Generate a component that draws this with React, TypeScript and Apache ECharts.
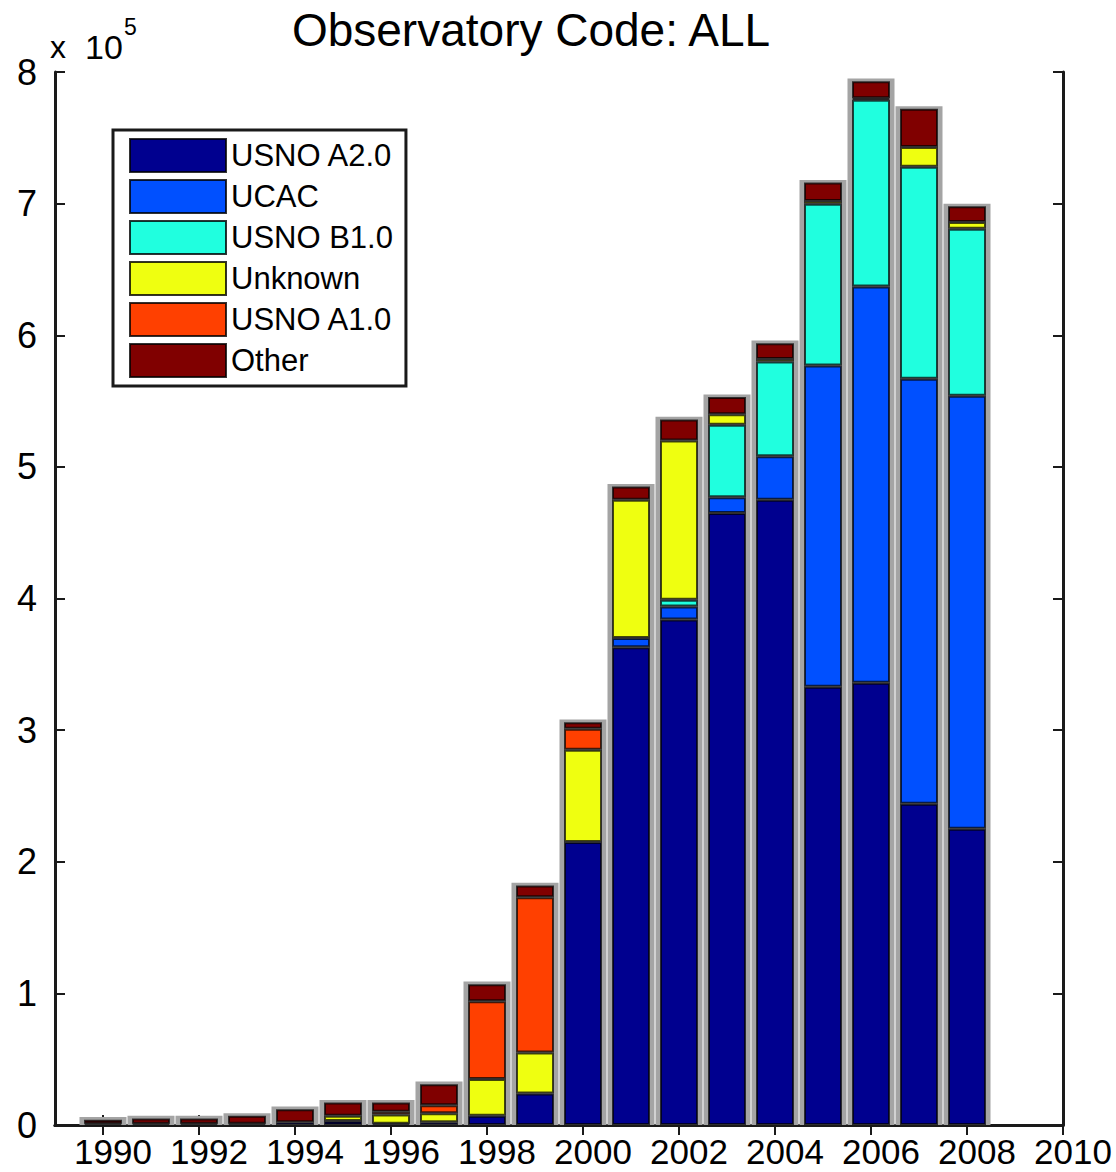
import React, { useEffect, useRef } from "react";
import * as echarts from "echarts";

const axisYears = [1989, 1990, 1991, 1992, 1993, 1994, 1995, 1996, 1997, 1998, 1999, 2000, 2001, 2002, 2003, 2004, 2005, 2006, 2007, 2008, 2009, 2010];
const years = [1990, 1991, 1992, 1993, 1994, 1995, 1996, 1997, 1998, 1999, 2000, 2001, 2002, 2003, 2004, 2005, 2006, 2007, 2008];
const usnoA2 = [0.01, 0.01, 0.01, 0.01, 0.02, 0.03, 0.01, 0.02, 0.07, 0.24, 2.15, 3.63, 3.84, 4.65, 4.75, 3.33, 3.36, 2.44, 2.25];
const ucac = [0, 0, 0, 0, 0, 0, 0, 0, 0, 0, 0, 0.07, 0.10, 0.12, 0.33, 2.44, 3.01, 3.23, 3.29];
const usnoB1 = [0, 0, 0, 0, 0, 0, 0, 0, 0, 0, 0, 0, 0.05, 0.55, 0.72, 1.23, 1.42, 1.61, 1.27];
const unknown = [0, 0, 0, 0, 0, 0.04, 0.07, 0.07, 0.28, 0.31, 0.70, 1.05, 1.21, 0.08, 0.02, 0.02, 0.01, 0.15, 0.05];
const usnoA1 = [0, 0, 0, 0, 0, 0, 0.02, 0.06, 0.59, 1.18, 0.16, 0, 0, 0, 0, 0, 0, 0, 0];
const other = [0.03, 0.04, 0.04, 0.06, 0.10, 0.10, 0.07, 0.16, 0.13, 0.09, 0.05, 0.10, 0.16, 0.13, 0.12, 0.14, 0.13, 0.29, 0.12];

const seriesNames = ["USNO A2.0", "UCAC", "USNO B1.0", "Unknown", "USNO A1.0", "Other"];
const seriesColors = ["#00008f", "#0050ff", "#20ffdf", "#efff10", "#ff4000", "#800000"];
const seriesData = [usnoA2, ucac, usnoB1, unknown, usnoA1, other];

const xTickLabels = [1990, 1992, 1994, 1996, 1998, 2000, 2002, 2004, 2006, 2008, 2010];
const yTicks = [0, 1, 2, 3, 4, 5, 6, 7, 8];

const FONT = "'Liberation Sans', Arial, Helvetica, sans-serif";

export default function App() {
  const ref = useRef<HTMLDivElement>(null);
  useEffect(() => {
    document.body.style.margin = "0";
    if (!ref.current) return;
    const chart = echarts.init(ref.current, null, { renderer: "svg" });

    const valueAt = (arr: number[], yr: number) => {
      const i = years.indexOf(yr);
      if (i < 0) return "-";
      const v = arr[i];
      return v > 0 ? v : "-";
    };
    const totalAt = (yr: number) => {
      const i = years.indexOf(yr);
      if (i < 0) return "-";
      return seriesData.reduce((s, arr) => s + (arr[i] || 0), 0) + 0.02;
    };

    const labelFilter = (_idx: number, val: string) => xTickLabels.includes(Number(val));

    const barSeries = seriesNames.map((name, k) => ({
      name,
      type: "bar",
      stack: "total",
      xAxisIndex: 0,
      yAxisIndex: 0,
      barWidth: 38,
      z: 3,
      data: axisYears.map((yr) => valueAt(seriesData[k], yr)),
      itemStyle: {
        color: seriesColors[k],
        borderColor: "rgba(0,0,0,0.72)",
        borderWidth: 2,
      },
    }));

    const haloSeries = {
      name: "halo",
      type: "bar",
      xAxisIndex: 1,
      yAxisIndex: 0,
      barWidth: 47,
      z: 2,
      silent: true,
      data: axisYears.map((yr) => totalAt(yr)),
      itemStyle: { color: "#a4a4a4" },
    };

    const catAxis = (pos: "bottom" | "top", showLabels: boolean) => ({
      type: "category",
      data: axisYears.map(String),
      boundaryGap: false,
      position: pos,
      splitLine: { show: false },
      axisLine: { show: true, lineStyle: { color: "#1a1a1a", width: 3 } },
      axisTick: {
        show: true,
        inside: true,
        length: 10,
        interval: labelFilter,
        lineStyle: { color: "#1a1a1a", width: 2 },
      },
      axisLabel: {
        show: showLabels,
        interval: labelFilter,
        fontSize: 35,
        color: "#000",
        fontFamily: FONT,
        margin: 9,
        padding: [0, 0, 0, 20],
      },
    });

    const option: any = {
      animation: false,
      backgroundColor: "#ffffff",
      textStyle: { fontFamily: FONT },
      grid: { left: 55, top: 72, width: 1008, height: 1053, containLabel: false },
      xAxis: [catAxis("bottom", true), catAxis("top", false)],
      yAxis: [
        {
          type: "value",
          min: 0,
          max: 8,
          interval: 1,
          position: "left",
          splitLine: { show: false },
          axisLine: { show: true, lineStyle: { color: "#1a1a1a", width: 3 } },
          axisTick: { show: true, inside: true, length: 10, lineStyle: { color: "#1a1a1a", width: 2 } },
          axisLabel: {
            show: true,
            fontSize: 36,
            color: "#000",
            fontFamily: FONT,
            margin: 18,
            formatter: (v: number) => (yTicks.includes(v) ? String(v) : ""),
          },
        },
        {
          type: "value",
          min: 0,
          max: 8,
          interval: 1,
          position: "right",
          splitLine: { show: false },
          axisLine: { show: true, lineStyle: { color: "#1a1a1a", width: 3 } },
          axisTick: { show: true, inside: true, length: 10, lineStyle: { color: "#1a1a1a", width: 2 } },
          axisLabel: { show: false },
        },
      ],
      legend: {
        data: seriesNames,
        orient: "vertical",
        left: 113,
        top: 130,
        backgroundColor: "#ffffff",
        borderColor: "#1a1a1a",
        borderWidth: 3,
        borderRadius: 0,
        padding: [8, 13, 8, 16],
        itemWidth: 96,
        itemHeight: 33,
        itemGap: 6,
        icon: "rect",
        itemStyle: { borderColor: "rgba(0,0,0,0.8)", borderWidth: 2 },
        textStyle: { fontSize: 31, color: "#000", fontFamily: FONT },
        z: 10,
      },
      graphic: [
        {
          type: "text",
          x: 531,
          y: 30,
          style: {
            text: "Observatory Code: ALL",
            fontSize: 46,
            fontFamily: FONT,
            fill: "#000",
            textAlign: "center",
            textVerticalAlign: "middle",
          },
        },
        {
          type: "text",
          x: 50,
          y: 47,
          style: { text: "x", fontSize: 32, fontFamily: FONT, fill: "#000", textVerticalAlign: "middle" },
        },
        {
          type: "text",
          x: 85,
          y: 47,
          style: { text: "10", fontSize: 34, fontFamily: FONT, fill: "#000", textVerticalAlign: "middle" },
        },
        {
          type: "text",
          x: 124,
          y: 27,
          style: { text: "5", fontSize: 23, fontFamily: FONT, fill: "#000", textVerticalAlign: "middle" },
        },
      ],
      series: [haloSeries, ...barSeries],
    };

    chart.setOption(option);
    return () => chart.dispose();
  }, []);

  return <div ref={ref} style={{ width: 1116, height: 1172 }} />;
}
